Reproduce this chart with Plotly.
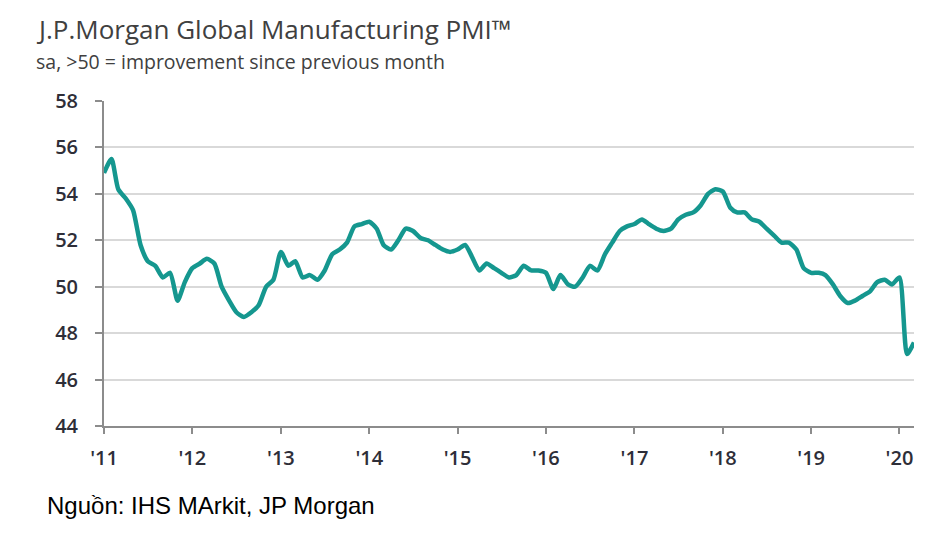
import plotly.graph_objects as go
import pandas as pd

# Monthly J.P.Morgan Global Manufacturing PMI, Jan 2011 - Mar 2020
pmi = [
    54.9, 55.5, 54.2, 53.8, 53.3, 51.8, 51.1, 50.9, 50.4, 50.6, 49.4, 50.2,   # 2011
    50.8, 51.0, 51.2, 51.0, 50.0, 49.4, 48.9, 48.7, 48.9, 49.2, 50.0, 50.3,   # 2012
    51.5, 50.9, 51.1, 50.4, 50.5, 50.3, 50.7, 51.4, 51.6, 51.9, 52.6, 52.7,   # 2013
    52.8, 52.5, 51.8, 51.6, 52.0, 52.5, 52.4, 52.1, 52.0, 51.8, 51.6, 51.5,   # 2014
    51.6, 51.8, 51.3, 50.7, 51.0, 50.8, 50.6, 50.4, 50.5, 50.9, 50.7, 50.7,   # 2015
    50.6, 49.9, 50.5, 50.1, 50.0, 50.4, 50.9, 50.7, 51.4, 51.9, 52.4, 52.6,   # 2016
    52.7, 52.9, 52.7, 52.5, 52.4, 52.5, 52.9, 53.1, 53.2, 53.5, 54.0, 54.2,   # 2017
    54.1, 53.4, 53.2, 53.2, 52.9, 52.8, 52.5, 52.2, 51.9, 51.9, 51.6, 50.8,   # 2018
    50.6, 50.6, 50.5, 50.1, 49.6, 49.3, 49.4, 49.6, 49.8, 50.2, 50.3, 50.1,   # 2019
    50.4, 47.1, 47.6,                                                          # 2020
]
months = pd.date_range("2011-01-01", periods=len(pmi), freq="MS")

year_ticks = pd.date_range("2011-01-01", "2020-01-01", freq="YS")
year_labels = ["'11", "'12", "'13", "'14", "'15", "'16", "'17", "'18", "'19", "'20"]
y_ticks = [44, 46, 48, 50, 52, 54, 56, 58]

title_text = "J.P.Morgan Global Manufacturing PMI™"
subtitle_text = "sa, >50 = improvement since previous month"
source_text = "Nguồn: IHS MArkit, JP Morgan"

tick_font = dict(size=20, color="#2e2e38", family="Open Sans", weight=600)

fig = go.Figure()
fig.add_trace(go.Scatter(
    x=months, y=pmi, mode="lines",
    line=dict(color="#15978f", width=4.5, shape="spline", smoothing=0.6),
    hoverinfo="x+y", showlegend=False,
))

fig.update_layout(
    width=942, height=533,
    margin=dict(l=104, r=28, t=101, b=107),
    paper_bgcolor="white", plot_bgcolor="white",
    font=dict(family="Open Sans", color="#3a3a3a"),
    xaxis=dict(
        range=[months[0], months[-1]],
        tickvals=year_ticks, ticktext=year_labels,
        showgrid=False, showline=True, linecolor="#8c8c8c", linewidth=2,
        ticks="outside", ticklen=6, tickwidth=2, tickcolor="#8c8c8c",
        tickfont=tick_font,
        ticklabelstandoff=7, zeroline=False,
    ),
    yaxis=dict(
        range=[44, 58], tickvals=y_ticks,
        showgrid=True, gridcolor="#d9d9d9", gridwidth=2,
        showline=True, linecolor="#8c8c8c", linewidth=2,
        ticks="outside", ticklen=7, tickwidth=2, tickcolor="#8c8c8c",
        tickfont=tick_font,
        ticklabelstandoff=13, zeroline=False,
    ),
)

# place annotations in pixel terms converted to paper coords
pw = 942 - 104 - 28
ph = 533 - 101 - 107
def px(x):
    return (x - 104) / pw
def py(y):
    return (533 - 107 - y) / ph

fig.layout.annotations = [
    dict(text=title_text, x=px(34), y=py(29), xref="paper", yref="paper",
         xanchor="left", yanchor="middle", showarrow=False,
         font=dict(size=26, color="#404040", family="Open Sans")),
    dict(text=subtitle_text, x=px(34), y=py(62), xref="paper", yref="paper",
         xanchor="left", yanchor="middle", showarrow=False,
         font=dict(size=19.5, color="#404040", family="Open Sans")),
    dict(text=source_text, x=px(45), y=py(505), xref="paper", yref="paper",
         xanchor="left", yanchor="middle", showarrow=False,
         font=dict(size=24, color="#000000", family="Liberation Sans")),
]

fig.write_html("out.html")
